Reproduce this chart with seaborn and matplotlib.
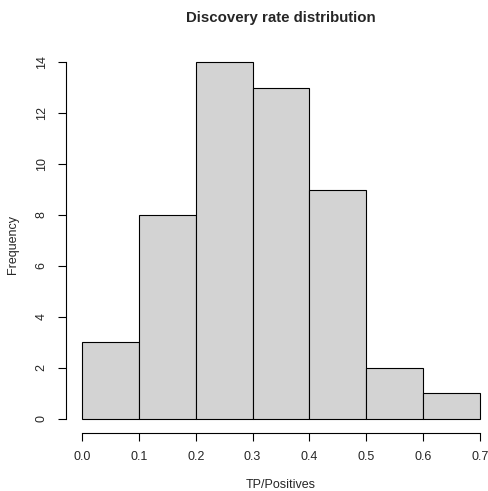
import numpy as np
import pandas as pd
import matplotlib
matplotlib.use("Agg")
import matplotlib.pyplot as plt
import seaborn as sns

# Data
bin_edges = [0.0, 0.1, 0.2, 0.3, 0.4, 0.5, 0.6, 0.7]
counts = [3, 8, 14, 13, 9, 2, 1]
x_ticks = [0.0, 0.1, 0.2, 0.3, 0.4, 0.5, 0.6, 0.7]
y_ticks = [0, 2, 4, 6, 8, 10, 12, 14]

sns.set_style("white")
plt.rcParams['font.family'] = ['Liberation Sans', 'DejaVu Sans']

centers = [(bin_edges[i] + bin_edges[i + 1]) / 2 for i in range(len(counts))]
df = pd.DataFrame({"rate": centers, "n": counts})

W, H = 488, 491
fig = plt.figure(figsize=(W / 100, H / 100), dpi=100)
left_px, right_px, top_px, bot_px = 66.1, 488, 48.0, 433.0
ax = fig.add_axes([left_px / W, 1 - bot_px / H, (right_px - left_px) / W, (bot_px - top_px) / H])

sns.histplot(data=df, x="rate", weights="n", bins=bin_edges, ax=ax,
             color="#D3D3D3", edgecolor="black", linewidth=0.8, alpha=1.0)

ax.set_xlim(-0.028, 0.714)
ax.set_ylim(-0.56, 14.56)

for s in ["top", "right"]:
    ax.spines[s].set_visible(False)
ax.spines["left"].set_bounds(0, 14)
ax.spines["bottom"].set_bounds(0, 0.7)
for s in ["left", "bottom"]:
    ax.spines[s].set_linewidth(0.8)
    ax.spines[s].set_color("black")

ax.set_xticks(x_ticks)
ax.set_xticklabels([f"{v:.1f}" for v in x_ticks])
ax.set_yticks(y_ticks)
ax.set_yticklabels([str(v) for v in y_ticks], rotation=90, va="center")
ax.tick_params(axis="both", direction="out", length=5.8, width=0.8, color="black",
               labelsize=9, bottom=True, left=True, pad=7.5)
ax.set_xlabel("")
ax.set_ylabel("")

fig.text(13 / W, 1 - 245 / H, "Frequency", fontsize=9, rotation=90, ha="center", va="center")
fig.text(281 / W, 1 - 485 / H, "TP/Positives", fontsize=9, ha="center", va="center")
fig.text(281 / W, 1 - 18 / H, "Discovery rate distribution", fontsize=10.8,
         fontweight="bold", ha="center", va="center")

fig.savefig("out.png", dpi=100)
